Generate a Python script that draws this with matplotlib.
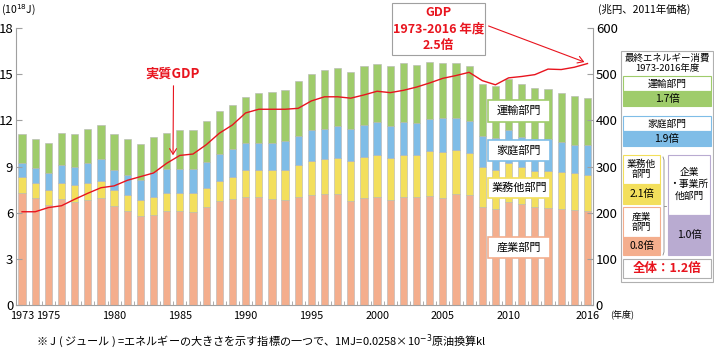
import matplotlib
matplotlib.use("Agg")
import matplotlib.pyplot as plt
from matplotlib.patches import Rectangle, FancyArrowPatch
import numpy as np

plt.rcParams['font.family'] = ['Noto Sans CJK JP', 'DejaVu Sans']

years = list(range(1973, 2017))
# 累積の上端 (10^18 J) -> 各部門の値に直す
top_sangyo = [7.28, 6.96, 6.50, 6.89, 6.70, 6.83, 6.96, 6.46, 6.11, 5.78, 5.87,
              6.11, 6.11, 6.04, 6.37, 6.76, 6.89, 7.02, 7.02, 6.89, 6.83, 7.02,
              7.15, 7.22, 7.22, 6.78, 6.98, 7.04, 6.83, 7.04, 7.04, 7.11, 6.98,
              7.22, 7.15, 6.37, 6.24, 6.70, 6.57, 6.37, 6.30, 6.24, 6.17, 6.11]
top_gyomu = [8.33, 7.93, 7.46, 7.93, 7.80, 7.93, 8.07, 7.46, 7.13, 6.80, 7.02,
             7.28, 7.28, 7.28, 7.61, 8.04, 8.33, 8.76, 8.76, 8.76, 8.76, 9.11,
             9.37, 9.50, 9.54, 9.37, 9.63, 9.76, 9.54, 9.76, 9.76, 10.02, 9.96,
             10.07, 9.89, 8.98, 8.80, 9.24, 8.98, 8.70, 8.72, 8.63, 8.57, 8.43]
top_katei = [9.24, 8.91, 8.59, 9.11, 8.98, 9.24, 9.46, 8.80, 8.46, 8.15, 8.67,
             8.85, 8.85, 8.85, 9.30, 9.83, 10.11, 10.54, 10.54, 10.54, 10.67, 10.98,
             11.35, 11.46, 11.61, 11.46, 11.72, 11.91, 11.65, 11.91, 11.85, 12.11, 12.17,
             12.17, 11.98, 11.00, 10.83, 11.37, 10.89, 10.80, 10.80, 10.59, 10.41, 10.37]
top_yuso = [11.10, 10.80, 10.50, 11.15, 11.10, 11.46, 11.72, 11.10, 10.76, 10.43, 10.89,
            11.20, 11.37, 11.37, 11.93, 12.61, 13.02, 13.54, 13.76, 13.87, 14.00, 14.54,
            15.00, 15.24, 15.37, 15.11, 15.50, 15.67, 15.50, 15.70, 15.57, 15.76, 15.70,
            15.72, 15.54, 14.38, 14.20, 14.67, 14.33, 14.11, 14.02, 13.76, 13.59, 13.48]
gdp = [202, 202, 211, 215, 229, 242, 254, 258, 270, 278, 286,
       307, 324, 327, 347, 372, 390, 416, 424, 424, 424, 426,
       442, 451, 451, 448, 455, 463, 460, 465, 472, 481, 491,
       497, 504, 486, 477, 492, 495, 499, 511, 510, 515, 523]
year_labels = [1973, 1975, 1980, 1985, 1990, 1995, 2000, 2005, 2010, 2016]

sangyo = np.array(top_sangyo)
gyomu = np.array(top_gyomu) - np.array(top_sangyo)
katei = np.array(top_katei) - np.array(top_gyomu)
yuso = np.array(top_yuso) - np.array(top_katei)

c_sangyo = '#f4ae8d'
c_gyomu = '#f3df5c'
c_katei = '#7fbde7'
c_yuso = '#9fcc6b'
c_purple = '#b9abd1'
red = '#e8141e'
grey = '#a0a0a0'

W, H = 714, 352
fig = plt.figure(figsize=(W / 100, H / 100), dpi=100)


def fx(x):
    return x / W


def fy(y):
    return 1 - y / H


ax = fig.add_axes([fx(16), fy(305), fx(593) - fx(16), fy(28) - fy(305)])
x = np.array(years)
bw = 0.55
ec = '#b5b5b5'
ax.bar(x, sangyo, bw, color=c_sangyo, edgecolor=ec, linewidth=0.4)
ax.bar(x, gyomu, bw, bottom=sangyo, color=c_gyomu, edgecolor=ec, linewidth=0.4)
ax.bar(x, katei, bw, bottom=sangyo + gyomu, color=c_katei, edgecolor=ec, linewidth=0.4)
ax.bar(x, yuso, bw, bottom=sangyo + gyomu + katei, color=c_yuso, edgecolor=ec, linewidth=0.4)

ax.set_xlim(1972.54, 2016.42)
ax.set_ylim(0, 18)
ax.set_yticks(range(0, 19, 3))
ax.set_xticks(year_labels)
ax.set_xticks(np.arange(1973.5, 2016, 1), minor=True)
ax.tick_params(axis='x', which='major', length=0, labelsize=7.8, pad=4)
ax.tick_params(axis='x', which='minor', length=3, direction='in', color=grey)
ax.tick_params(axis='y', length=4, direction='in', color=grey, labelsize=9.5, pad=2)
for s in ['top', 'right']:
    ax.spines[s].set_visible(False)
for s in ['left', 'bottom']:
    ax.spines[s].set_color(grey)

ax2 = ax.twinx()
ax2.plot(x, gdp, color=red, linewidth=1)
ax2.set_ylim(0, 600)
ax2.set_yticks(range(0, 601, 100))
ax2.tick_params(axis='y', length=4, direction='in', color=grey, labelsize=9.5, pad=2)
for s in ['top', 'left', 'bottom']:
    ax2.spines[s].set_visible(False)
ax2.spines['right'].set_color(grey)

# 単位
fig.text(fx(1), fy(10), '(10$^{18}$J)', fontsize=7.5, va='center', ha='left')
fig.text(fx(598), fy(9), '(兆円、2011年価格)', fontsize=7.5, va='center', ha='left')
fig.text(fx(610), fy(314), '(年度)', fontsize=6.5, va='center', ha='left')
fig.text(fx(36), fy(341), '※ J ( ジュール ) =エネルギーの大きさを示す指標の一つで、1MJ=0.0258×10$^{-3}$原油換算kl',
         fontsize=8, va='center', ha='left')


def rect(x0, y0, x1, y1, fc='white', ec=grey, lw=0.8):
    fig.add_artist(Rectangle((fx(x0), fy(y1)), fx(x1) - fx(x0), fy(y0) - fy(y1),
                             transform=fig.transFigure, facecolor=fc, edgecolor=ec, linewidth=lw))


def txt(xp, yp, s, **kw):
    fig.text(fx(xp), fy(yp), s, ha='center', va='center', **kw)


# 実質GDP 注記
txt(173, 74, '実質GDP', fontsize=9.5, color=red, fontweight='bold')
fig.add_artist(FancyArrowPatch((fx(173.5), fy(83)), (fx(173), fy(158)), transform=fig.transFigure,
                               arrowstyle='->,head_length=4,head_width=2.5', color=red, lw=0.8))

# GDP 2.5倍 ボックス
rect(392, 3, 485, 55)
txt(438.5, 13, 'GDP', fontsize=9, color=red, fontweight='bold')
txt(438.5, 29, '1973-2016 年度', fontsize=9, color=red, fontweight='bold')
txt(438.5, 45, '2.5倍', fontsize=9, color=red, fontweight='bold')
fig.add_artist(FancyArrowPatch((fx(486), fy(25)), (fx(587), fy(63)), transform=fig.transFigure,
                               arrowstyle='->,head_length=4,head_width=2.5', color=red, lw=0.8))

# 部門ラベル
for (y0, y1, lab, col) in [(100, 122, '運輸部門', c_yuso), (140, 161, '家庭部門', c_katei),
                           (178, 198, '業務他部門', c_gyomu), (237, 258, '産業部門', c_sangyo)]:
    rect(488, y0, 550, y1, fc='white', ec=col, lw=1.2)
    txt(519, (y0 + y1) / 2, lab, fontsize=8)

# 右側パネル
rect(621, 51, 713, 282, fc='white', ec='#b0b0b0')
txt(667, 58, '最終エネルギー消費', fontsize=6.8)
txt(667, 69, '1973-2016年度', fontsize=6.8)

rect(623, 76, 711, 91, fc='white', ec=c_yuso)
rect(623, 91, 711, 106, fc=c_yuso, ec=c_yuso)
txt(667, 84, '運輸部門', fontsize=7)
txt(667, 99, '1.7倍', fontsize=7.5)

rect(623, 116, 711, 131, fc='white', ec=c_katei)
rect(623, 131, 711, 146, fc=c_katei, ec=c_katei)
txt(667, 124, '家庭部門', fontsize=7)
txt(667, 139, '1.9倍', fontsize=7.5)

rect(623, 155, 660, 184, fc='white', ec=c_gyomu)
rect(623, 184, 660, 204, fc=c_gyomu, ec=c_gyomu)
txt(641.5, 169, '業務他\n部門', fontsize=7, linespacing=1.1)
txt(641.5, 194, '2.1倍', fontsize=7.5)

rect(623, 207, 660, 237, fc='white', ec=c_sangyo)
rect(623, 237, 660, 255, fc=c_sangyo, ec=c_sangyo)
txt(641.5, 222, '産業\n部門', fontsize=7, linespacing=1.1)
txt(641.5, 246, '0.8倍', fontsize=7.5)

# 括弧
fig.add_artist(plt.Line2D([fx(663), fx(664), fx(664), fx(663)], [fy(157), fy(160), fy(252), fy(255)],
                          transform=fig.transFigure, color='#888888', lw=0.6))
fig.add_artist(plt.Line2D([fx(664), fx(666)], [fy(206), fy(206)],
                          transform=fig.transFigure, color='#888888', lw=0.6))

rect(668, 155, 710, 215, fc='white', ec=c_purple)
rect(668, 215, 710, 255, fc=c_purple, ec=c_purple)
txt(689, 184, '企業\n・事業所\n他部門', fontsize=7, linespacing=1.2)
txt(689, 235, '1.0倍', fontsize=7.5)

rect(623, 259, 711, 278, fc='white', ec='#b0b0b0')
txt(667, 268.5, '全体：1.2倍', fontsize=9, color=red, fontweight='bold')

fig.savefig('out.png', dpi=100)
